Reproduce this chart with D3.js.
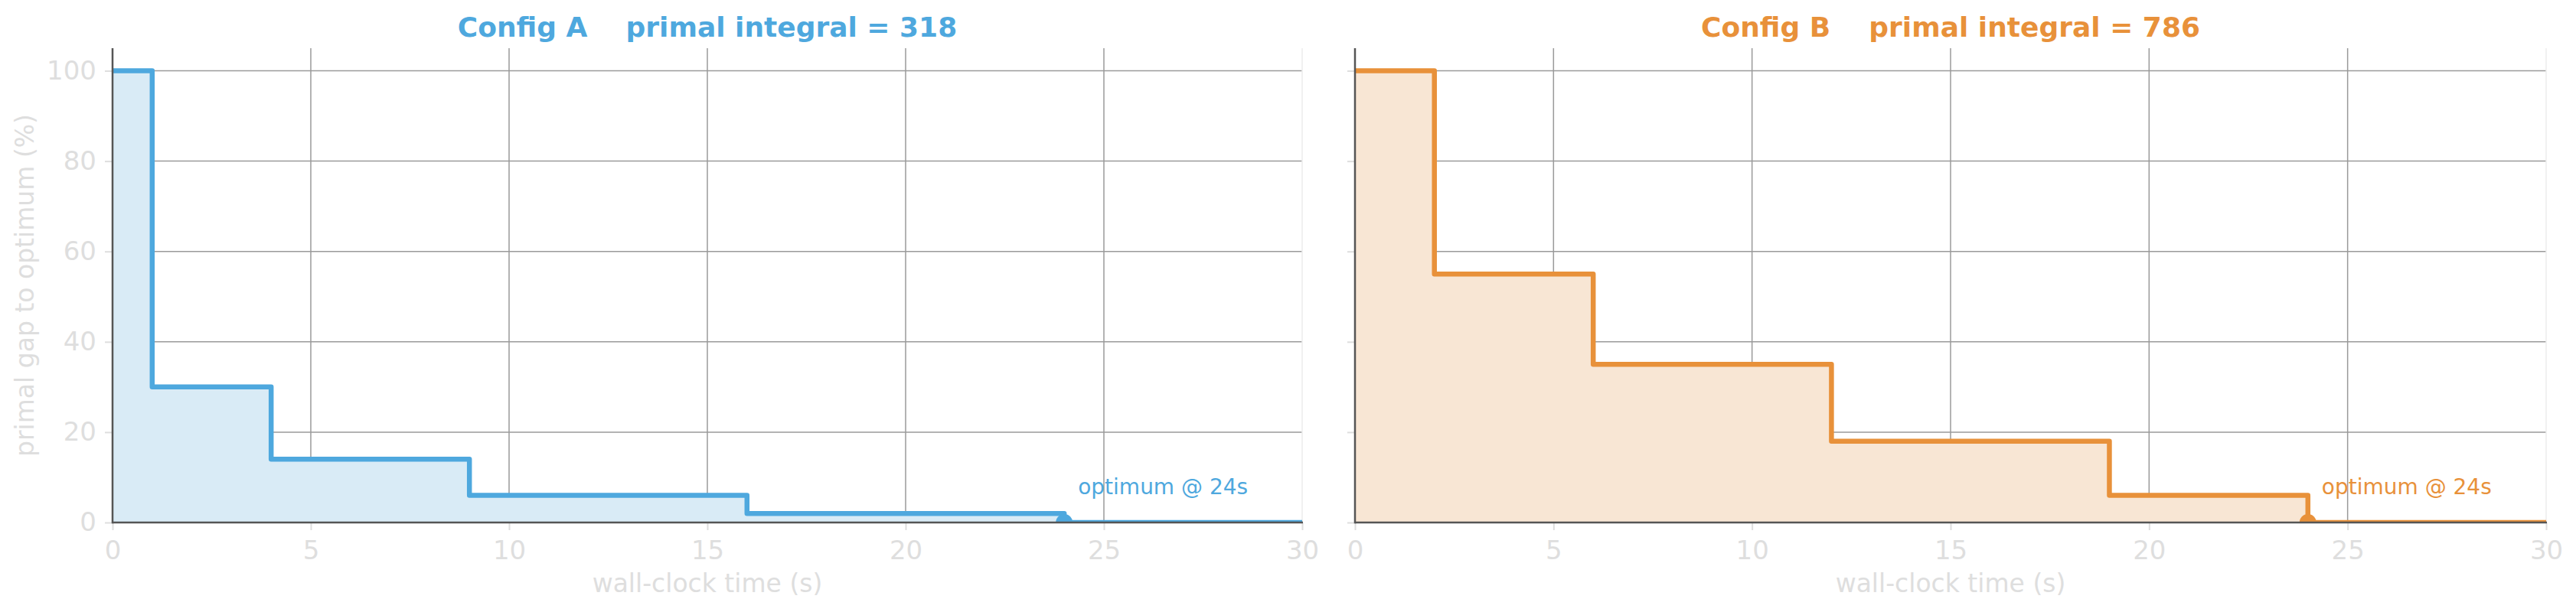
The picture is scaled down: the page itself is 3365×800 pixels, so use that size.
<!DOCTYPE html>
<html>
<head>
<meta charset="utf-8">
<script src="https://cdn.jsdelivr.net/npm/d3@7"></script>
<style>
  body { margin: 0; background: #ffffff; }
  text { font-family: "DejaVu Sans", sans-serif; }
  .tick text { fill: #dedede; font-size: 34px; }
  .tick line { stroke: #dedede; stroke-width: 2; }
  .aLabel { fill: #dedede; font-size: 33px; }
</style>
</head>
<body>
<div id="chart"></div>
<script>
// Data
var configNames = ["Config A", "Config B"];
var primalIntegrals = [318, 786];
var timesA = [0, 1, 4, 9, 16, 24, 30];
var gapA = [100, 30, 14, 6, 2, 0, 0];
var timesB = [0, 2, 6, 12, 19, 24, 30];
var gapB = [100, 55, 35, 18, 6, 0, 0];
var optimumTimes = [24, 24];
var xTicks = [0, 5, 10, 15, 20, 25, 30];
var yTicks = [0, 20, 40, 60, 80, 100];

var lineColors = ["#4ea8de", "#e8913a"];
var fillColors = ["#d9ebf6", "#f8e6d4"];

var svgWidth = 3365;
var svgHeight = 800;

// panel boxes
var panels = [
  { left: 147, right: 1701 },
  { left: 1770, right: 3326 }
];
var plotTop = 63;
var plotBottom = 683;

var svg = d3.select("#chart")
  .append("svg")
  .attr("width", svgWidth)
  .attr("height", svgHeight);

var seriesTimes = [timesA, timesB];
var seriesGaps = [gapA, gapB];

panels.forEach(function(p, i) {

  var xScale = d3.scaleLinear().domain([0, 30]).range([p.left, p.right]);
  var yScale = d3.scaleLinear().domain([0, 105]).range([plotBottom, plotTop]);

  var data = seriesTimes[i].map(function(t, j) {
    return { t: t, gap: seriesGaps[i][j] };
  });

  var g = svg.append("g");

  // clip to plot area
  g.append("clipPath")
    .attr("id", "clip" + i)
    .append("rect")
    .attr("x", p.left)
    .attr("y", plotTop)
    .attr("width", p.right - p.left)
    .attr("height", plotBottom - plotTop);

  // grid
  g.append("g").selectAll("line")
    .data(yTicks.filter(d => d > 0))
    .enter()
    .append("line")
    .attr("x1", p.left)
    .attr("x2", p.right)
    .attr("y1", d => yScale(d))
    .attr("y2", d => yScale(d))
    .attr("stroke", "#9a9a9a")
    .attr("stroke-width", 1.5);

  g.append("g").selectAll("line")
    .data(xTicks.filter(d => d > 0 && d < 30))
    .enter()
    .append("line")
    .attr("x1", d => xScale(d))
    .attr("x2", d => xScale(d))
    .attr("y1", plotTop)
    .attr("y2", plotBottom)
    .attr("stroke", "#9a9a9a")
    .attr("stroke-width", 1.5);

  // faint right spine
  g.append("line")
    .attr("x1", p.right)
    .attr("x2", p.right)
    .attr("y1", plotTop)
    .attr("y2", plotBottom)
    .attr("stroke", "#ececec")
    .attr("stroke-width", 1.5);

  // area + step line
  var area = d3.area()
    .curve(d3.curveStepAfter)
    .x(d => xScale(d.t))
    .y0(yScale(0))
    .y1(d => yScale(d.gap));

  var line = d3.line()
    .curve(d3.curveStepAfter)
    .x(d => xScale(d.t))
    .y(d => yScale(d.gap));

  var plot = g.append("g").attr("clip-path", "url(#clip" + i + ")");

  plot.append("path")
    .datum(data)
    .attr("d", area)
    .attr("fill", fillColors[i]);

  plot.append("path")
    .datum(data)
    .attr("d", line)
    .attr("fill", "none")
    .attr("stroke", lineColors[i])
    .attr("stroke-width", 6.5)
    .attr("stroke-linejoin", "round");

  plot.append("circle")
    .attr("cx", xScale(optimumTimes[i]))
    .attr("cy", yScale(0))
    .attr("r", 11)
    .attr("fill", lineColors[i]);

  // axes
  var bottomAxis = d3.axisBottom(xScale)
    .tickValues(xTicks)
    .tickSize(10)
    .tickPadding(14);

  var leftAxis = d3.axisLeft(yScale)
    .tickValues(yTicks)
    .tickSize(10)
    .tickPadding(11);
  if (i === 1) leftAxis.tickFormat("");

  var xAxisG = g.append("g")
    .attr("transform", `translate(0, ${plotBottom})`)
    .call(bottomAxis);
  xAxisG.select(".domain").remove();
  xAxisG.selectAll("text").attr("fill", "#dedede").style("font-size", "34px");

  var yAxisG = g.append("g")
    .attr("transform", `translate(${p.left}, 0)`)
    .call(leftAxis);
  yAxisG.select(".domain").remove();
  yAxisG.selectAll("text").attr("fill", "#dedede").style("font-size", "34px");

  // spines
  g.append("line")
    .attr("x1", p.left)
    .attr("x2", p.left)
    .attr("y1", plotTop)
    .attr("y2", plotBottom + 1.25)
    .attr("stroke", "#555555")
    .attr("stroke-width", 2.5);

  g.append("line")
    .attr("x1", p.left)
    .attr("x2", p.right + 1)
    .attr("y1", plotBottom)
    .attr("y2", plotBottom)
    .attr("stroke", "#555555")
    .attr("stroke-width", 2.5);

  // optimum note
  g.append("text")
    .attr("x", xScale(optimumTimes[i]) + 18)
    .attr("y", plotBottom - 37)
    .attr("fill", lineColors[i])
    .style("font-size", "28px")
    .text("optimum @ " + optimumTimes[i] + "s");

  // title
  g.append("text")
    .attr("x", (p.left + p.right) / 2)
    .attr("y", 48)
    .attr("text-anchor", "middle")
    .attr("fill", lineColors[i])
    .style("font-size", "36px")
    .style("font-weight", "bold")
    .style("white-space", "pre")
    .text(configNames[i] + "    primal integral = " + primalIntegrals[i]);

  // x label
  g.append("text")
    .classed("aLabel", true)
    .attr("x", (p.left + p.right) / 2)
    .attr("y", 774)
    .attr("text-anchor", "middle")
    .text("wall-clock time (s)");
});

// y label (left panel only)
svg.append("text")
  .classed("aLabel", true)
  .attr("transform", `translate(44, ${(plotTop + plotBottom) / 2}) rotate(-90)`)
  .attr("text-anchor", "middle")
  .text("primal gap to optimum (%)");
</script>
</body>
</html>
